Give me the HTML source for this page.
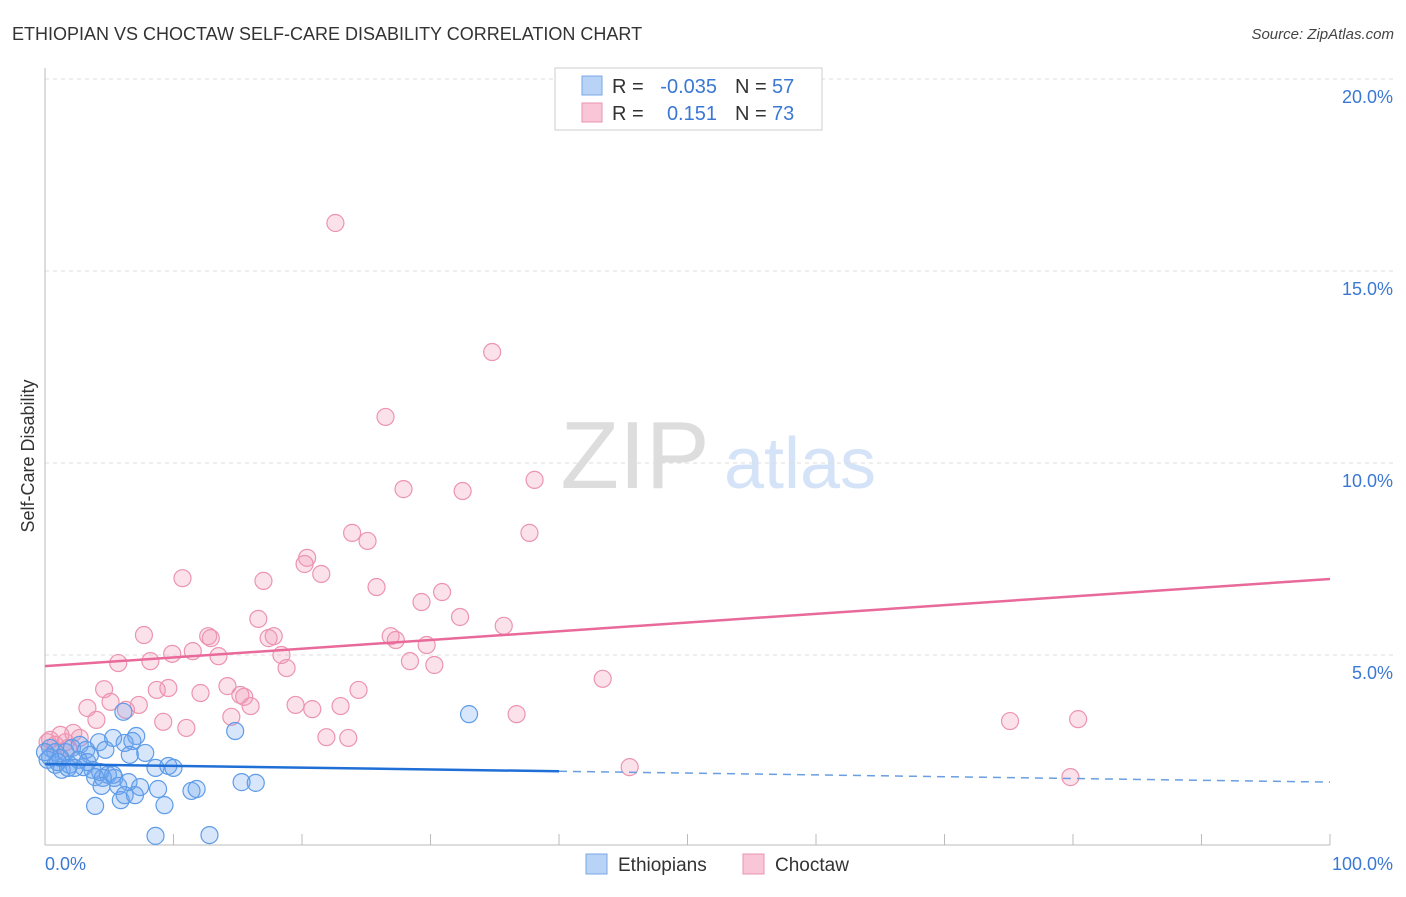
<!DOCTYPE html>
<html><head><meta charset="utf-8"><style>
body{margin:0;background:#fff;font-family:"Liberation Sans",sans-serif}
svg text{font-family:"Liberation Sans",sans-serif}
</style></head><body>
<svg id="chart" width="1406" height="892" xmlns="http://www.w3.org/2000/svg">
<text x="12" y="40" font-size="18" fill="#333">ETHIOPIAN VS CHOCTAW SELF-CARE DISABILITY CORRELATION CHART</text>
<text x="1394" y="39" font-size="15" fill="#444" text-anchor="end" font-style="italic">Source: ZipAtlas.com</text>
<g>
<text x="635" y="488" font-size="96" fill="#ddd" font-family="Liberation Serif,serif" text-anchor="middle">ZIP</text>
<text x="800" y="488" font-size="72" fill="#d4e3f7" text-anchor="middle">atlas</text>
</g>
<g id="grid"></g>
<g id="axes"></g>
<g id="pts"></g>
<g id="trends"></g>
<text transform="translate(34,456) rotate(-90)" font-size="18" fill="#333" text-anchor="middle">Self-Care Disability</text>
<g>
<rect x="555" y="68" width="267" height="62" fill="#fff" stroke="#ccc"/>
<rect x="582" y="76" width="20" height="19" fill="#b8d3f5" stroke="#7aa8e8"/>
<rect x="582" y="103" width="20" height="19" fill="#f8c6d6" stroke="#eb94b1"/>
<text x="612" y="93" font-size="20" fill="#333">R =</text><text x="717" y="93" font-size="20" fill="#3a78d4" text-anchor="end">-0.035</text>
<text x="735" y="93" font-size="20" fill="#333">N =</text><text x="772" y="93" font-size="20" fill="#3a78d4">57</text>
<text x="612" y="120" font-size="20" fill="#333">R =</text><text x="717" y="120" font-size="20" fill="#3a78d4" text-anchor="end">0.151</text>
<text x="735" y="120" font-size="20" fill="#333">N =</text><text x="772" y="120" font-size="20" fill="#3a78d4">73</text>
</g>
<g>
<rect x="586" y="854" width="21" height="20" fill="#b8d3f5" stroke="#7aa8e8"/>
<text x="618" y="871" font-size="19" fill="#333">Ethiopians</text>
<rect x="743" y="854" width="21" height="20" fill="#f8c6d6" stroke="#eb94b1"/>
<text x="775" y="871" font-size="19" fill="#333">Choctaw</text>
</g>
</svg>
<script>
const yTicks=[5,10,15,20];
const yTickLabels=["5.0%","10.0%","15.0%","20.0%"];
const xTickLabels=["0.0%","100.0%"];
const blueX=[6.1,33.0,14.8,7.1,5.3,4.2,2.7,0.4,0.8,1.6,2.1,3.2,3.5,4.7,6.2,6.8,7.8,6.6,0.2,0.8,1.3,1.9,2.6,3.0,3.7,4.3,4.9,5.4,1.2,3.3,8.6,9.6,10.0,5.3,3.9,4.5,0.4,1.0,2.3,5.7,6.5,7.4,8.8,4.4,5.9,6.2,9.3,11.4,11.8,15.3,16.4,3.9,8.6,12.8,7.0,1.8,0.0];
const blueY=[3.52,3.46,3.02,2.89,2.84,2.73,2.66,2.58,2.47,2.47,2.58,2.53,2.40,2.53,2.71,2.76,2.45,2.40,2.27,2.14,2.01,2.14,2.27,2.08,2.01,1.95,1.88,1.80,2.32,2.21,2.06,2.11,2.06,1.88,1.82,1.80,2.34,2.21,2.06,1.59,1.69,1.56,1.51,1.59,1.22,1.35,1.09,1.46,1.51,1.69,1.67,1.07,0.29,0.31,1.35,2.06,2.47];
const pinkX=[22.6,34.8,26.5,27.9,32.5,38.1,23.9,25.1,37.7,20.4,20.2,21.5,10.7,17.0,25.8,30.9,29.3,32.3,16.6,35.7,7.7,12.7,12.9,17.4,17.8,26.9,27.3,29.7,11.5,9.9,13.5,18.4,8.2,5.7,18.8,28.4,30.3,4.6,8.7,9.6,24.4,43.4,12.1,14.2,15.2,15.5,5.1,16.0,6.3,7.3,19.5,20.8,23.0,3.3,9.2,14.5,4.0,11.0,36.7,75.1,80.4,21.9,23.6,45.5,79.8,0.4,1.2,2.2,2.7,0.8,1.6,1.8,0.2];
const pinkY=[16.25,12.89,11.2,9.32,9.27,9.56,8.18,7.97,8.18,7.53,7.37,7.11,7.0,6.93,6.77,6.64,6.38,5.99,5.94,5.76,5.52,5.49,5.44,5.44,5.49,5.49,5.39,5.26,5.10,5.03,4.97,5.0,4.84,4.79,4.66,4.84,4.74,4.11,4.09,4.14,4.09,4.38,4.01,4.19,3.96,3.91,3.78,3.67,3.57,3.70,3.70,3.59,3.67,3.62,3.26,3.39,3.31,3.10,3.46,3.28,3.33,2.86,2.84,2.08,1.82,2.79,2.92,2.97,2.84,2.66,2.73,2.58,2.73];
const blueTrend=[2.16,1.69];
const pinkTrend=[4.71,6.98];
const NS="http://www.w3.org/2000/svg";
const X=v=>45+v*12.85, Y=v=>847-v*38.4;
function mk(t,a,p){const e=document.createElementNS(NS,t);for(const k in a)e.setAttribute(k,a[k]);p.appendChild(e);return e;}
const grid=document.getElementById('grid'),axes=document.getElementById('axes'),pts=document.getElementById('pts'),tr=document.getElementById('trends');
yTicks.forEach((t,i)=>{
 const l=mk('line',{x1:45,x2:1395,y1:Y(t),y2:Y(t),stroke:'#ddd','stroke-dasharray':'4,4'},grid);
 
 
 const tx=mk('text',{x:1393,y:Y(t)+24,'font-size':18,fill:'#3a78d4','text-anchor':'end'},grid);
 tx.textContent=yTickLabels[i];
 
 
});
const ya=mk('line',{x1:45,x2:45,y1:68,y2:845,stroke:'#bbb'},axes);


const xa=mk('line',{x1:45,x2:1330,y1:845,y2:845,stroke:'#bbb'},axes);


for(let i=0;i<=10;i++){const t=mk('line',{x1:X(i*10),x2:X(i*10),y1:834,y2:845,stroke:'#bbb'},axes);
 
 }
[[0,'start',45],[100,'end',1393]].forEach((d,i)=>{const t=mk('text',{x:d[2],y:870,'font-size':18,fill:'#3a78d4','text-anchor':d[1]},axes);t.textContent=xTickLabels[i];
 
 });
pinkX.forEach((x,i)=>{const c=mk('circle',{cx:X(x),cy:Y(pinkY[i]),r:8.5,fill:'rgba(242,150,180,0.28)',stroke:'#ec94b0','stroke-width':1.2},pts);
 
 });
blueX.forEach((x,i)=>{const c=mk('circle',{cx:X(x),cy:Y(blueY[i]),r:8.5,fill:'rgba(110,165,240,0.28)',stroke:'#5e9ce8','stroke-width':1.2},pts);
 
 });
const bAt=v=>blueTrend[0]+(blueTrend[1]-blueTrend[0])*v/100;
const b1=mk('line',{x1:X(0),y1:Y(bAt(0)),x2:X(40),y2:Y(bAt(40)),stroke:'#1f6fd6','stroke-width':2.5},tr);


const b2=mk('line',{x1:X(40),y1:Y(bAt(40)),x2:X(100),y2:Y(bAt(100)),stroke:'#6a9ee0','stroke-width':1.5,'stroke-dasharray':'8,6'},tr);


const p1=mk('line',{x1:X(0),y1:Y(pinkTrend[0]),x2:X(100),y2:Y(pinkTrend[1]),stroke:'#e8699a','stroke-width':2.5},tr);


</script>
</body></html>
